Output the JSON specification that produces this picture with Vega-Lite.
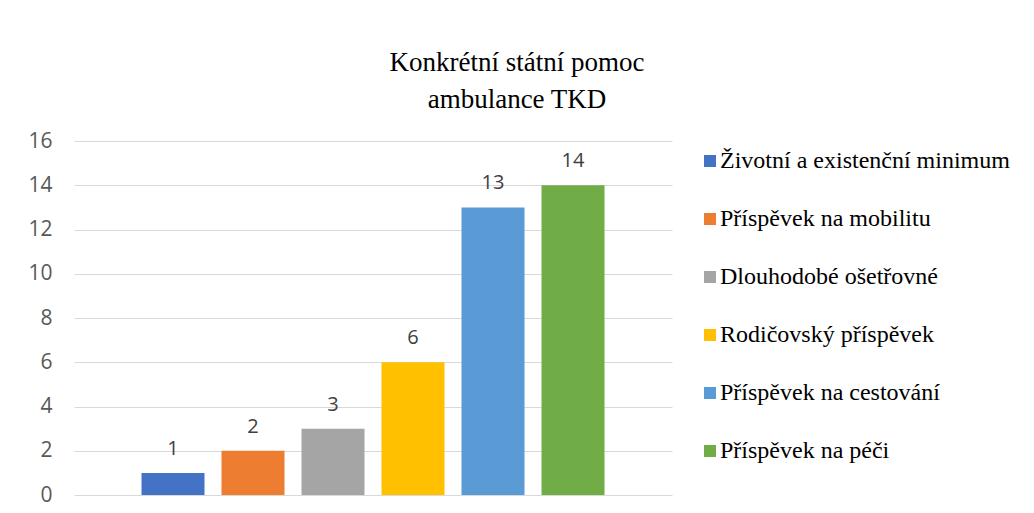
{
  "$schema": "https://vega.github.io/schema/vega-lite/v6.json",
  "width": 598,
  "height": 354,
  "autosize": {"type": "none"},
  "padding": {"left": 74, "top": 141, "right": 362, "bottom": 18},
  "background": "white",
  "config": {
    "view": {"stroke": null},
    "legend": {"labelFont": "Liberation Serif"}
  },
  "title": {
    "text": ["Konkrétní státní pomoc", "ambulance TKD"],
    "font": "Liberation Serif",
    "fontSize": 27,
    "fontWeight": "normal",
    "color": "#000000",
    "lineHeight": 37,
    "anchor": "middle",
    "frame": "group",
    "dx": 144,
    "offset": 16
  },
  "data": {
    "values": [
      {"kategorie": "Životní a existenční minimum", "pocet": 1},
      {"kategorie": "Příspěvek na mobilitu", "pocet": 2},
      {"kategorie": "Dlouhodobé ošetřovné", "pocet": 3},
      {"kategorie": "Rodičovský příspěvek", "pocet": 6},
      {"kategorie": "Příspěvek na cestování", "pocet": 13},
      {"kategorie": "Příspěvek na péči", "pocet": 14}
    ]
  },
  "encoding": {
    "x": {
      "field": "kategorie",
      "type": "nominal",
      "sort": null,
      "axis": null,
      "scale": {"paddingInner": 0.2125, "paddingOuter": 0.84375}
    },
    "y": {
      "field": "pocet",
      "type": "quantitative",
      "scale": {"domain": [0, 16]},
      "axis": {
        "values": [0, 2, 4, 6, 8, 10, 12, 14, 16],
        "title": null,
        "domain": false,
        "ticks": false,
        "grid": true,
        "gridColor": "#d9d9d9",
        "gridWidth": 1,
        "labelFont": "Open Sans",
        "labelFontSize": 21,
        "labelColor": "#595959",
        "labelPadding": 22
      }
    }
  },
  "layer": [
    {
      "mark": {"type": "bar"},
      "encoding": {
        "color": {
          "field": "kategorie",
          "type": "nominal",
          "sort": null,
          "scale": {
            "domain": ["Životní a existenční minimum", "Příspěvek na mobilitu", "Dlouhodobé ošetřovné", "Rodičovský příspěvek", "Příspěvek na cestování", "Příspěvek na péči"],
            "range": ["#4472C4", "#ED7D31", "#A5A5A5", "#FFC000", "#5B9BD5", "#70AD47"]
          },
          "legend": {
            "title": null,
            "orient": "none",
            "legendX": 624,
            "legendY": 8,
            "padding": 0,
            "symbolType": "square",
            "symbolSize": 144,
            "symbolStrokeWidth": 0,
            "symbolOpacity": 1,
            "labelFont": "Liberation Serif",
            "labelFontSize": 24,
            "labelColor": "#000000",
            "labelOffset": -2,
            "labelLimit": 400,
            "rowPadding": 34
          }
        }
      }
    },
    {
      "mark": {
        "type": "text",
        "baseline": "alphabetic",
        "dy": -18,
        "font": "Open Sans",
        "fontSize": 20,
        "color": "#404040"
      },
      "encoding": {
        "text": {"field": "pocet", "type": "quantitative"}
      }
    }
  ]
}
